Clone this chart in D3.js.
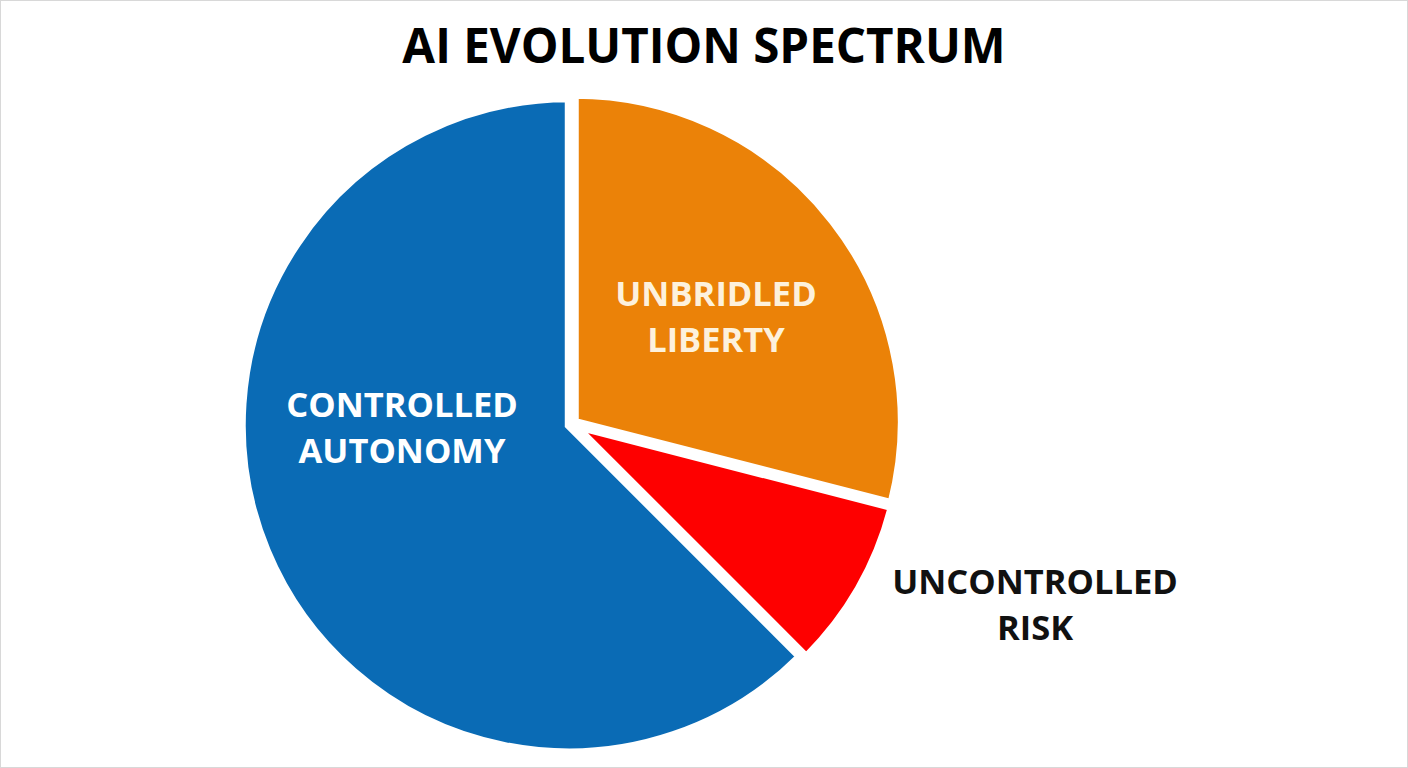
<!DOCTYPE html>
<html>
<head>
<meta charset="utf-8">
<script src="https://cdn.jsdelivr.net/npm/d3@7"></script>
<style>
  html, body { margin: 0; padding: 0; background: #fff; }
  svg { display: block; }
</style>
</head>
<body>
<svg id="chart" width="1408" height="768"></svg>
<script>
const categories = ["UNBRIDLED LIBERTY", "UNCONTROLLED RISK", "CONTROLLED AUTONOMY"];
const values = [29, 8.5, 62.5];
const colors = ["#eb8208", "#fe0000", "#0a6bb5"];
const labelLines = [["UNBRIDLED", "LIBERTY"], ["UNCONTROLLED", "RISK"], ["CONTROLLED", "AUTONOMY"]];
const labelColors = ["#fdf1dc", "#111111", "#ffffff"];
const title = "AI EVOLUTION SPECTRUM";

const W = 1408, H = 768;
const svg = d3.select("#chart");
svg.append("rect").attr("x", 0.5).attr("y", 0.5).attr("width", W - 1).attr("height", H - 1)
  .attr("fill", "#fff").attr("stroke", "#d8d8d8").attr("stroke-width", 1);

svg.append("text").attr("x", 704).attr("y", 63).attr("text-anchor", "middle")
  .attr("font-family", "'Open Sans', sans-serif").attr("font-weight", 700)
  .attr("font-size", 47.5).attr("fill", "#000").text(title);

const cx = 572, cy = 424, R = 327, explode = 3.5;
const data = categories.map((c, i) => ({ cat: c, value: values[i], i }));
const pie = d3.pie().value(d => d.value).sort(null);
const arc = d3.arc().innerRadius(0).outerRadius(R);
const arcs = pie(data);

const g = svg.append("g").attr("transform", `translate(${cx},${cy})`);
g.selectAll("path").data(arcs).enter().append("path")
  .attr("d", arc)
  .attr("transform", d => {
    const m = (d.startAngle + d.endAngle) / 2;
    return `translate(${explode * Math.sin(m)},${-explode * Math.cos(m)})`;
  })
  .attr("fill", d => colors[d.data.i])
  .attr("stroke", "#fff").attr("stroke-width", 8).attr("stroke-linejoin", "miter");

const labelPos = [
  { x: 716, y0: 306 },
  { x: 1035, y0: 594 },
  { x: 402, y0: 417 }
];
arcs.forEach(d => {
  const i = d.data.i;
  const p = labelPos[i];
  const t = svg.append("text").attr("text-anchor", "middle")
    .attr("font-family", "'Open Sans', sans-serif").attr("font-weight", 700)
    .attr("font-size", 34.5).attr("fill", labelColors[i]);
  labelLines[i].forEach((line, j) => {
    t.append("tspan").attr("x", p.x).attr("y", p.y0 + j * 46).text(line);
  });
});
</script>
</body>
</html>
